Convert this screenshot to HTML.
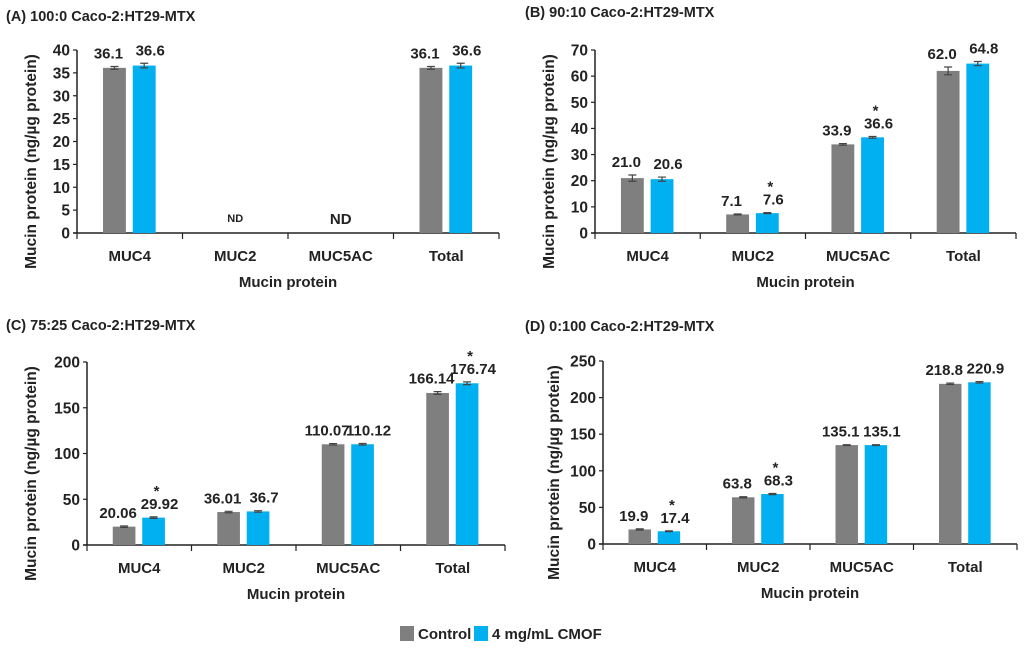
<!DOCTYPE html>
<html><head><meta charset="utf-8"><style>
body{margin:0;background:#fff;width:1024px;height:652px;overflow:hidden;font-family:"Liberation Sans",sans-serif}
svg text{font-family:"Liberation Sans",sans-serif;font-weight:bold;fill:#222}
</style></head><body>
<svg id="c" width="1024" height="652"></svg>
<script>
const categories=["MUC4","MUC2","MUC5AC","Total"];
const ctrlA=[36.1,0,0,36.1], cmofA=[36.6,0,0,36.6], errCA=[0.3,0,0,0.3], errMA=[0.5,0,0,0.5];
const ctrlB=[21.0,7.1,33.9,62.0], cmofB=[20.6,7.6,36.6,64.8], errCB=[1.2,0.2,0.3,1.5], errMB=[0.8,0.2,0.3,0.8];
const ctrlC=[20.06,36.01,110.07,166.14], cmofC=[29.92,36.7,110.12,176.74], errCC=[0.8,0.8,0.8,1.5], errMC=[0.8,0.8,0.8,1.5];
const ctrlD=[19.9,63.8,135.1,218.8], cmofD=[17.4,68.3,135.1,220.9], errCD=[0.8,0.8,0.5,1], errMD=[0.5,0.8,0.5,1];
const lblCA=["36.1","","","36.1"], lblMA=["36.6","","","36.6"];
const lblCB=["21.0","7.1","33.9","62.0"], lblMB=["20.6","7.6","36.6","64.8"];
const lblCC=["20.06","36.01","110.07","166.14"], lblMC=["29.92","36.7","110.12","176.74"];
const lblCD=["19.9","63.8","135.1","218.8"], lblMD=["17.4","68.3","135.1","220.9"];
const starB=[0,1,1,0], starC=[1,0,0,1], starD=[1,1,0,0], starA=[0,0,0,0];
const ticksA=[0,5,10,15,20,25,30,35,40], ticksB=[0,10,20,30,40,50,60,70], ticksC=[0,50,100,150,200], ticksD=[0,50,100,150,200,250];
const svg=document.getElementById('c');
const NS='http://www.w3.org/2000/svg';
function el(tag,attrs,txt){const e=document.createElementNS(NS,tag);for(const k in attrs)e.setAttribute(k,attrs[k]);if(txt!==undefined)e.textContent=txt;svg.appendChild(e);return e;}
function panel(p){
  const t=el('text',{x:p.tx,y:p.ty,'font-size':14.5},p.title);
  
  
  const max=p.ticks[p.ticks.length-1];
  const y=v=>p.y0-(v/max)*(p.y0-p.yTop);
  const gw=(p.x1-p.x0)/categories.length;
  const ax=el('line',{x1:p.x0,y1:p.yTop,x2:p.x0,y2:p.y0,stroke:'#222','stroke-width':1.5});
  
  
  const xa=el('line',{x1:p.x0-4,y1:p.y0,x2:p.x1,y2:p.y0,stroke:'#222','stroke-width':1.5});
  
  
  p.ticks.forEach(v=>{
    el('line',{x1:p.x0-4,y1:y(v),x2:p.x0,y2:y(v),stroke:'#222','stroke-width':1.2});
    const tl=el('text',{x:p.x0-7,y:y(v)+5.5,'font-size':15.5,'text-anchor':'end'},v);
    
    
  });
  for(let i=0;i<=categories.length;i++) el('line',{x1:p.x0+i*gw,y1:p.y0,x2:p.x0+i*gw,y2:p.y0+6,stroke:'#222','stroke-width':1.2});
  categories.forEach((c,i)=>{
    const gx=p.x0+i*gw;
    const cl=el('text',{x:gx+gw/2,y:p.y0+28,'font-size':15,'text-anchor':'middle'},c);
    
    
    const bw=gw*0.217, c1=gx+gw*0.355, c2=gx+gw*0.637;
    [[p.ctrl,p.ec,p.lc,c1,'#7f7f7f','bar-control'],[p.cmof,p.em,p.lm,c2,'#00b0f0','bar-cmof']].forEach((s,k)=>{
      const v=s[0][i];
      if(v>0){
        const r=el('rect',{x:s[3]-bw/2,y:y(v),width:bw,height:p.y0-y(v),fill:s[4]});
        
        
        const e=s[1][i];
        el('path',{d:`M${s[3]} ${y(v+e)}V${y(v-e)}M${s[3]-4} ${y(v+e)}H${s[3]+4}M${s[3]-4} ${y(v-e)}H${s[3]+4}`,stroke:'#444','stroke-width':1.2,fill:'none'});
      }
      const lt=v>0?y(v+s[1][i])-8:0;
      if(s[2][i]){
        const lb=el('text',{x:s[3]+(k?6:-6),y:lt,'font-size':15,'text-anchor':'middle'},s[2][i]);
        
        
      }
      if(k===1&&p.star[i]){
        const st=el('text',{x:s[3]+3,y:lt-13,'font-size':15,'text-anchor':'middle'},'*');
        
        
      }
    });
  });
  if(p.nd){
    const n1=el('text',{x:p.x0+gw*1.5,y:p.y0-11,'font-size':11,'text-anchor':'middle'},'ND');
    
    
    const n2=el('text',{x:p.x0+gw*2.5,y:p.y0-9,'font-size':15,'text-anchor':'middle'},'ND');
    
    
  }
  const xt=el('text',{x:(p.x0+p.x1)/2,y:p.y0+54,'font-size':15,'text-anchor':'middle'},'Mucin protein');
  
  
  const cy=(p.yTop+p.y0+40)/2;
  const yt=el('text',{x:p.ytx,y:cy,'font-size':15.5,'text-anchor':'middle',transform:`rotate(-90 ${p.ytx} ${cy})`},'Mucin protein (ng/µg protein)');
  
  
}
panel({title:'(A) 100:0 Caco-2:HT29-MTX',tx:6,ty:21,x0:77,x1:499,y0:233,yTop:50,ticks:ticksA,ctrl:ctrlA,cmof:cmofA,ec:errCA,em:errMA,lc:lblCA,lm:lblMA,star:starA,nd:true,ytx:36});
panel({title:'(B) 90:10 Caco-2:HT29-MTX',tx:525,ty:17,x0:595,x1:1016,y0:233,yTop:50,ticks:ticksB,ctrl:ctrlB,cmof:cmofB,ec:errCB,em:errMB,lc:lblCB,lm:lblMB,star:starB,ytx:554});
panel({title:'(C) 75:25 Caco-2:HT29-MTX',tx:6,ty:330,x0:87,x1:505,y0:545,yTop:362,ticks:ticksC,ctrl:ctrlC,cmof:cmofC,ec:errCC,em:errMC,lc:lblCC,lm:lblMC,star:starC,ytx:36});
panel({title:'(D) 0:100 Caco-2:HT29-MTX',tx:525,ty:331,x0:603,x1:1017,y0:544,yTop:361,ticks:ticksD,ctrl:ctrlD,cmof:cmofD,ec:errCD,em:errMD,lc:lblCD,lm:lblMD,star:starD,ytx:559});
const l1=el('rect',{x:400,y:626,width:14,height:15,fill:'#7f7f7f'});


const l2=el('text',{x:418,y:639,'font-size':15},'Control');


const l3=el('rect',{x:474,y:626,width:14,height:15,fill:'#00b0f0'});


const l4=el('text',{x:492,y:639,'font-size':15},'4 mg/mL CMOF');


</script>
</body></html>
